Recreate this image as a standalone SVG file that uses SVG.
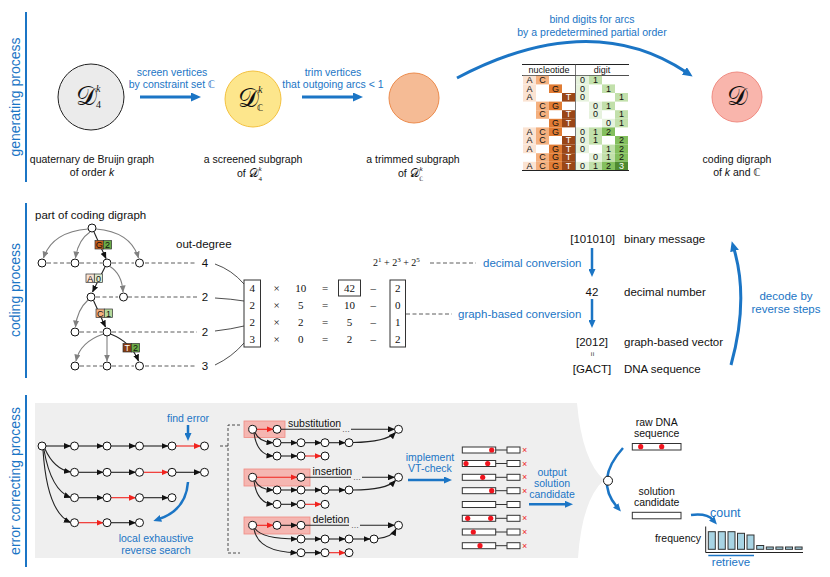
<svg xmlns="http://www.w3.org/2000/svg" width="830" height="577" viewBox="0 0 830 577">
<style>
.t{font-family:"Liberation Sans",Arial,sans-serif;font-size:10.5px;fill:#111}
.c{text-anchor:middle}
.r{text-anchor:end}
.bl{fill:#1b75c5}
.ttl{font-family:"Liberation Sans",Arial,sans-serif;font-size:14px;fill:#1b75c5;text-anchor:middle}
.m{font-family:"Liberation Serif","Times New Roman",serif;font-size:11px;fill:#111;text-anchor:middle}
.cal{font-family:"DejaVu Serif","DejaVu Sans",serif;font-size:26px;fill:#111}
.sm{font-family:"Liberation Serif",serif;font-size:10px;fill:#111}
.n{fill:#fff;stroke:#111;stroke-width:1}
.vl{stroke:#1b75c5;stroke-width:2}
.ba{fill:none;stroke:#1b75c5;stroke-width:3}
.ba2{fill:none;stroke:#1b75c5;stroke-width:2.5}
.ka{fill:none;stroke:#222;stroke-width:1.1}
.ga{fill:none;stroke:#808080;stroke-width:1.1}
.ra{fill:none;stroke:#f0231e;stroke-width:1.1}
.ds{fill:none;stroke:#333;stroke-width:0.8;stroke-dasharray:4 2.5}
.tb{font-family:"Liberation Sans",Arial,sans-serif;font-size:9px;text-anchor:middle;fill:#111}
.w{fill:#fff}
.A{fill:#fbe3d2}.C{fill:#f4b07f}.G{fill:#e07c34}.T{fill:#9a4617}
.d0{fill:#e6f2dd}.d1{fill:#c2e0ab}.d2{fill:#84bf5d}.d3{fill:#4f8a30}
.box{fill:#fff;stroke:#333;stroke-width:1}
.hl{fill:#f7a39c;fill-opacity:0.75;stroke:#ef8a82;stroke-width:0.8}
.x{font-family:"Liberation Sans",Arial,sans-serif;font-size:9px;fill:#f0231e}
.bar{fill:#a8d4e4;stroke:#333;stroke-width:1}
.f115{font-size:11.5px}
</style>
<defs>
<marker id="mb" viewBox="0 0 10 9" refX="2" refY="4.5" markerWidth="10" markerHeight="9" markerUnits="userSpaceOnUse" orient="auto"><path d="M0,0 L10,4.5 L0,9 z" fill="#1b75c5"/></marker>
<marker id="mb2" viewBox="0 0 8 7" refX="2" refY="3.5" markerWidth="8" markerHeight="7" markerUnits="userSpaceOnUse" orient="auto"><path d="M0,0 L8,3.5 L0,7 z" fill="#1b75c5"/></marker>
<marker id="mk" viewBox="0 0 7 6" refX="6.5" refY="3" markerWidth="7" markerHeight="6" markerUnits="userSpaceOnUse" orient="auto"><path d="M0,0 L7,3 L0,6 z" fill="#111"/></marker>
<marker id="mg" viewBox="0 0 7 6" refX="6.5" refY="3" markerWidth="7" markerHeight="6" markerUnits="userSpaceOnUse" orient="auto"><path d="M0,0 L7,3 L0,6 z" fill="#808080"/></marker>
<marker id="mr" viewBox="0 0 7 6" refX="6.5" refY="3" markerWidth="7" markerHeight="6" markerUnits="userSpaceOnUse" orient="auto"><path d="M0,0 L7,3 L0,6 z" fill="#f0231e"/></marker>
</defs>

<!-- section titles -->
<g id="titles">
<line class="vl" x1="26" y1="12" x2="26" y2="182"/>
<text class="ttl" transform="translate(20,97) rotate(-90)">generating process</text>
<line class="vl" x1="26" y1="203" x2="26" y2="378"/>
<text class="ttl" transform="translate(20,290) rotate(-90)">coding process</text>
<line class="vl" x1="26" y1="395" x2="26" y2="567"/>
<text class="ttl" transform="translate(20,481) rotate(-90)">error correcting process</text>
</g>

<!-- ===== generating process ===== -->
<g id="gen-d4">
<circle cx="91" cy="97" r="33" fill="#ebebeb" stroke="#222" stroke-width="1"/>
<text class="cal" x="76" y="105">𝒟</text>
<text class="sm" x="96" y="92" font-style="italic">k</text>
<text class="sm" x="96" y="108">4</text>
<text class="t c" x="92" y="163">quaternary de Bruijn graph</text>
<text class="t c" x="92" y="176">of order <tspan font-style="italic">k</tspan></text>
</g>
<g id="gen-dc">
<circle cx="253" cy="99" r="28" fill="#fde68c" stroke="#f3c140" stroke-width="1"/>
<text class="cal" x="238" y="107">𝒟</text>
<text class="sm" x="258" y="93" font-style="italic">k</text>
<text class="sm" x="257" y="111" style="font-family:'DejaVu Sans',sans-serif;font-size:9px">ℂ</text>
<text class="t c" x="253" y="163">a screened subgraph</text>
<text class="t" x="237" y="177">of</text>
<text class="cal" x="249" y="177" style="font-size:12px">𝒟</text>
<text class="sm" x="258.5" y="171" style="font-size:7px" font-style="italic">k</text>
<text class="sm" x="258.5" y="180.5" style="font-size:7px">4</text>
</g>
<g id="gen-trim">
<circle cx="414" cy="98" r="25" fill="#f5bb95" stroke="#ec8b4c" stroke-width="1"/>
<text class="t c" x="413" y="163">a trimmed subgraph</text>
<text class="t" x="398" y="177">of</text>
<text class="cal" x="410" y="177" style="font-size:12px">𝒟</text>
<text class="sm" x="419.5" y="171" style="font-size:7px" font-style="italic">k</text>
<text class="sm" x="419" y="180.5" style="font-family:'DejaVu Sans',sans-serif;font-size:6px">ℂ</text>
</g>
<g id="gen-d">
<circle cx="737" cy="97" r="25" fill="#f9b5ac" stroke="#f08b81" stroke-width="1"/>
<text class="cal c" x="737" y="105">𝒟</text>
<text class="t c" x="737" y="163">coding digraph</text>
<text class="t c" x="737" y="176">of <tspan font-style="italic">k</tspan> and <tspan font-family="DejaVu Sans">ℂ</tspan></text>
</g>

<g id="gen-table">
<line x1="522" y1="64.5" x2="629" y2="64.5" stroke="#222" stroke-width="1.2"/>
<text class="tb" x="549" y="73">nucleotide</text>
<text class="tb" x="602" y="73">digit</text>
<line x1="522" y1="75.5" x2="629" y2="75.5" stroke="#222" stroke-width="0.8"/>
<g>
<rect class="A" x="523" y="75.8" width="13" height="8.6"/><rect class="C" x="536" y="75.8" width="13" height="8.6"/><rect class="d0" x="576" y="75.8" width="13" height="8.6"/><rect class="d1" x="589" y="75.8" width="13" height="8.6"/>
<text class="tb" x="529.5" y="83">A</text><text class="tb" x="542.5" y="83">C</text><text class="tb" x="582.5" y="83">0</text><text class="tb" x="595.5" y="83">1</text>
<rect class="A" x="523" y="84.4" width="13" height="8.6"/><rect class="G" x="549" y="84.4" width="13" height="8.6"/><rect class="d0" x="576" y="84.4" width="13" height="8.6"/><rect class="d1" x="602" y="84.4" width="13" height="8.6"/>
<text class="tb" x="529.5" y="91.6">A</text><text class="tb" x="555.5" y="91.6">G</text><text class="tb" x="582.5" y="91.6">0</text><text class="tb" x="608.5" y="91.6">1</text>
<rect class="A" x="523" y="93" width="13" height="8.6"/><rect class="T" x="562" y="93" width="13" height="8.6"/><rect class="d0" x="576" y="93" width="13" height="8.6"/><rect class="d1" x="615" y="93" width="13" height="8.6"/>
<text class="tb" x="529.5" y="100.2">A</text><text class="tb w" x="568.5" y="100.2">T</text><text class="tb" x="582.5" y="100.2">0</text><text class="tb" x="621.5" y="100.2">1</text>
<rect class="C" x="536" y="101.6" width="13" height="8.6"/><rect class="G" x="549" y="101.6" width="13" height="8.6"/><rect class="d0" x="589" y="101.6" width="13" height="8.6"/><rect class="d1" x="602" y="101.6" width="13" height="8.6"/>
<text class="tb" x="542.5" y="108.8">C</text><text class="tb" x="555.5" y="108.8">G</text><text class="tb" x="595.5" y="108.8">0</text><text class="tb" x="608.5" y="108.8">1</text>
<rect class="C" x="536" y="110.2" width="13" height="8.6"/><rect class="T" x="562" y="110.2" width="13" height="8.6"/><rect class="d0" x="589" y="110.2" width="13" height="8.6"/><rect class="d1" x="615" y="110.2" width="13" height="8.6"/>
<text class="tb" x="542.5" y="117.4">C</text><text class="tb w" x="568.5" y="117.4">T</text><text class="tb" x="595.5" y="117.4">0</text><text class="tb" x="621.5" y="117.4">1</text>
<rect class="G" x="549" y="118.8" width="13" height="8.6"/><rect class="T" x="562" y="118.8" width="13" height="8.6"/><rect class="d0" x="602" y="118.8" width="13" height="8.6"/><rect class="d1" x="615" y="118.8" width="13" height="8.6"/>
<text class="tb" x="555.5" y="126">G</text><text class="tb w" x="568.5" y="126">T</text><text class="tb" x="608.5" y="126">0</text><text class="tb" x="621.5" y="126">1</text>
<rect class="A" x="523" y="127.4" width="13" height="8.6"/><rect class="C" x="536" y="127.4" width="13" height="8.6"/><rect class="G" x="549" y="127.4" width="13" height="8.6"/><rect class="d0" x="576" y="127.4" width="13" height="8.6"/><rect class="d1" x="589" y="127.4" width="13" height="8.6"/><rect class="d2" x="602" y="127.4" width="13" height="8.6"/>
<text class="tb" x="529.5" y="134.6">A</text><text class="tb" x="542.5" y="134.6">C</text><text class="tb" x="555.5" y="134.6">G</text><text class="tb" x="582.5" y="134.6">0</text><text class="tb" x="595.5" y="134.6">1</text><text class="tb" x="608.5" y="134.6">2</text>
<rect class="A" x="523" y="136" width="13" height="8.6"/><rect class="C" x="536" y="136" width="13" height="8.6"/><rect class="T" x="562" y="136" width="13" height="8.6"/><rect class="d0" x="576" y="136" width="13" height="8.6"/><rect class="d1" x="589" y="136" width="13" height="8.6"/><rect class="d2" x="615" y="136" width="13" height="8.6"/>
<text class="tb" x="529.5" y="143.2">A</text><text class="tb" x="542.5" y="143.2">C</text><text class="tb w" x="568.5" y="143.2">T</text><text class="tb" x="582.5" y="143.2">0</text><text class="tb" x="595.5" y="143.2">1</text><text class="tb" x="621.5" y="143.2">2</text>
<rect class="A" x="523" y="144.6" width="13" height="8.6"/><rect class="G" x="549" y="144.6" width="13" height="8.6"/><rect class="T" x="562" y="144.6" width="13" height="8.6"/><rect class="d0" x="576" y="144.6" width="13" height="8.6"/><rect class="d1" x="602" y="144.6" width="13" height="8.6"/><rect class="d2" x="615" y="144.6" width="13" height="8.6"/>
<text class="tb" x="529.5" y="151.8">A</text><text class="tb" x="555.5" y="151.8">G</text><text class="tb w" x="568.5" y="151.8">T</text><text class="tb" x="582.5" y="151.8">0</text><text class="tb" x="608.5" y="151.8">1</text><text class="tb" x="621.5" y="151.8">2</text>
<rect class="C" x="536" y="153.2" width="13" height="8.6"/><rect class="G" x="549" y="153.2" width="13" height="8.6"/><rect class="T" x="562" y="153.2" width="13" height="8.6"/><rect class="d0" x="589" y="153.2" width="13" height="8.6"/><rect class="d1" x="602" y="153.2" width="13" height="8.6"/><rect class="d2" x="615" y="153.2" width="13" height="8.6"/>
<text class="tb" x="542.5" y="160.4">C</text><text class="tb" x="555.5" y="160.4">G</text><text class="tb w" x="568.5" y="160.4">T</text><text class="tb" x="595.5" y="160.4">0</text><text class="tb" x="608.5" y="160.4">1</text><text class="tb" x="621.5" y="160.4">2</text>
<rect class="A" x="523" y="161.8" width="13" height="8.6"/><rect class="C" x="536" y="161.8" width="13" height="8.6"/><rect class="G" x="549" y="161.8" width="13" height="8.6"/><rect class="T" x="562" y="161.8" width="13" height="8.6"/><rect class="d0" x="576" y="161.8" width="13" height="8.6"/><rect class="d1" x="589" y="161.8" width="13" height="8.6"/><rect class="d2" x="602" y="161.8" width="13" height="8.6"/><rect class="d3" x="615" y="161.8" width="13" height="8.6"/>
<text class="tb" x="529.5" y="169">A</text><text class="tb" x="542.5" y="169">C</text><text class="tb" x="555.5" y="169">G</text><text class="tb w" x="568.5" y="169">T</text><text class="tb" x="582.5" y="169">0</text><text class="tb" x="595.5" y="169">1</text><text class="tb" x="608.5" y="169">2</text><text class="tb w" x="621.5" y="169">3</text>
</g>
<line x1="575.5" y1="64.5" x2="575.5" y2="170.5" stroke="#555" stroke-width="0.8"/>
<line x1="522" y1="170.5" x2="629" y2="170.5" stroke="#222" stroke-width="1.2"/>
</g>

<g id="gen-connectors">
<line class="ba" x1="140" y1="97" x2="193" y2="97" marker-end="url(#mb)"/>
<text class="t c bl" x="172" y="76">screen vertices</text>
<text class="t c bl" x="172" y="88">by constraint set <tspan font-family="DejaVu Sans">ℂ</tspan></text>
<line class="ba" x1="302" y1="97" x2="355" y2="97" marker-end="url(#mb)"/>
<text class="t c bl" x="333" y="76">trim vertices</text>
<text class="t c bl" x="333" y="88">that outgoing arcs &lt; 1</text>
<path class="ba" d="M457,78 Q590,8 686,72" marker-end="url(#mb)"/>
<text class="t c bl" x="592" y="23">bind digits for arcs</text>
<text class="t c bl" x="592" y="36">by a predetermined partial order</text>
</g>

<!-- ===== coding process ===== -->
<g id="code-tree">
<text class="t f115" x="35" y="219">part of coding digraph</text>
<text class="t f115" x="176" y="248">out-degree</text>
<path class="ds" d="M47,263 H70 M80,263 H102 M112,263 H134 M145,263 H197 M96,297 H118 M128,297 H197 M80,332 H102 M112,332 H197 M80,366 H102 M112,366 H134 M145,366 H197"/>
<text class="t c f115" x="205" y="267">4</text>
<text class="t c f115" x="205" y="301">2</text>
<text class="t c f115" x="205" y="336">2</text>
<text class="t c f115" x="205" y="370">3</text>
<path class="ga" d="M88,229 Q52,232 43.5,258" marker-end="url(#mg)"/>
<path class="ga" d="M90,232 Q78,240 75.5,258" marker-end="url(#mg)"/>
<path class="ka" d="M94,232 L106,258.5" marker-end="url(#mk)"/>
<path class="ga" d="M96,229 Q131,232 138.5,258" marker-end="url(#mg)"/>
<path class="ka" d="M105,267 L92.5,292" marker-end="url(#mk)"/>
<path class="ga" d="M110,266.5 Q122,274 123,292" marker-end="url(#mg)"/>
<path class="ga" d="M88,300 Q77,310 75.5,327" marker-end="url(#mg)"/>
<path class="ka" d="M93.5,300.5 L105.5,327" marker-end="url(#mk)"/>
<path class="ga" d="M103.5,334 Q80,342 76,361" marker-end="url(#mg)"/>
<path class="ga" d="M107,336 L107,361" marker-end="url(#mg)"/>
<path class="ka" d="M110.5,334 Q131,342 138.5,361" marker-end="url(#mk)"/>
<circle class="n" cx="92" cy="228" r="4"/>
<circle class="n" cx="42" cy="263" r="4"/><circle class="n" cx="75" cy="263" r="4"/><circle class="n" cx="107" cy="263" r="4"/><circle class="n" cx="139.5" cy="263" r="4"/>
<circle class="n" cx="91" cy="297" r="4"/><circle class="n" cx="123.5" cy="297" r="4"/>
<circle class="n" cx="75" cy="332" r="4"/><circle class="n" cx="107" cy="332" r="4"/>
<circle class="n" cx="75" cy="366" r="4"/><circle class="n" cx="107" cy="366" r="4"/><circle class="n" cx="139.5" cy="366" r="4"/>
<g stroke="#333" stroke-width="0.7">
<rect x="95" y="240.5" width="8.3" height="8.5" fill="#c9601c"/><rect x="103.3" y="240.5" width="8.3" height="8.5" fill="#6aab46"/>
<rect x="86" y="274" width="8.3" height="8.5" fill="#fbe3d2"/><rect x="94.3" y="274" width="8.3" height="8.5" fill="#dcebd2"/>
<rect x="96" y="309" width="8.3" height="8.5" fill="#f4b07f"/><rect x="104.3" y="309" width="8.3" height="8.5" fill="#b5d99b"/>
<rect x="123" y="343.5" width="8.3" height="8.5" fill="#8a3c10"/><rect x="131.3" y="343.5" width="8.3" height="8.5" fill="#6aab46"/>
</g>
<text class="tb" x="99.2" y="248">G</text><text class="tb" x="107.5" y="248">2</text>
<text class="tb" x="90.2" y="281.5">A</text><text class="tb" x="98.5" y="281.5">0</text>
<text class="tb" x="100.2" y="316.5">C</text><text class="tb" x="108.5" y="316.5">1</text>
<text class="tb w" x="127.2" y="351">T</text><text class="tb" x="135.5" y="351">2</text>
<path fill="none" stroke="#222" stroke-width="0.8" d="M215,264 Q232,270 244,284 M215,298 Q232,299 244,301 M215,331 Q232,329 244,326 M215,365 Q232,357 244,343"/>
</g>

<g id="code-matrix">
<rect class="box" x="244" y="280" width="16.5" height="67"/>
<rect class="box" x="338.5" y="280" width="22" height="16"/>
<rect class="box" x="390" y="280" width="15.5" height="67"/>
<text class="m" x="252.3" y="291.5">4</text><text class="m" x="276.7" y="291.5">×</text><text class="m" x="300.7" y="291.5">10</text><text class="m" x="325" y="291.5">=</text><text class="m" x="349.5" y="291.5">42</text><text class="m" x="373.3" y="291.5">–</text><text class="m" x="397.7" y="291.5">2</text>
<text class="m" x="252.3" y="309">2</text><text class="m" x="276.7" y="309">×</text><text class="m" x="300.7" y="309">5</text><text class="m" x="325" y="309">=</text><text class="m" x="349.5" y="309">10</text><text class="m" x="373.3" y="309">–</text><text class="m" x="397.7" y="309">0</text>
<text class="m" x="252.3" y="326">2</text><text class="m" x="276.7" y="326">×</text><text class="m" x="300.7" y="326">2</text><text class="m" x="325" y="326">=</text><text class="m" x="349.5" y="326">5</text><text class="m" x="373.3" y="326">–</text><text class="m" x="397.7" y="326">1</text>
<text class="m" x="252.3" y="343">3</text><text class="m" x="276.7" y="343">×</text><text class="m" x="300.7" y="343">0</text><text class="m" x="325" y="343">=</text><text class="m" x="349.5" y="343">2</text><text class="m" x="373.3" y="343">–</text><text class="m" x="397.7" y="343">2</text>
<text class="m" x="373" y="266" style="text-anchor:start;font-size:10px">2<tspan dy="-4" style="font-size:7px">1</tspan><tspan dy="4"> + 2</tspan><tspan dy="-4" style="font-size:7px">3</tspan><tspan dy="4"> + 2</tspan><tspan dy="-4" style="font-size:7px">5</tspan></text>
<path class="ds" d="M430,263 H476 M406,314 H452"/>
<text class="t bl f115" x="483" y="267">decimal conversion</text>
<text class="t bl f115" x="458" y="318">graph-based conversion</text>
</g>

<g id="code-right">
<text class="t r f115" x="615" y="243">[101010]</text>
<text class="t f115" x="624" y="243">binary message</text>
<line class="ba2" x1="592" y1="248" x2="592" y2="271" marker-end="url(#mb2)"/>
<text class="t c f115" x="592" y="296">42</text>
<text class="t f115" x="624" y="296">decimal number</text>
<line class="ba2" x1="592" y1="299" x2="592" y2="322" marker-end="url(#mb2)"/>
<text class="t c f115" x="592" y="346">[2012]</text>
<text class="t f115" x="624" y="346">graph-based vector</text>
<text class="t c" x="592" y="356.5" style="font-size:8px" transform="rotate(90 592 354)">=</text>
<text class="t c f115" x="592" y="373">[GACT]</text>
<text class="t f115" x="624" y="373">DNA sequence</text>
<path class="ba" d="M731,365 Q749,300 734,249" marker-end="url(#mb)"/>
<text class="t c bl f115" x="786" y="300">decode by</text>
<text class="t c bl f115" x="786" y="313">reverse steps</text>
</g>

<!-- ===== error correcting ===== -->
<path id="err-bg" d="M35,403 H577 Q582,460 604,480 Q582,500 578,558 H35 Z" fill="#efefef"/>

<g id="err-search">
<path class="ka" d="M45,449 Q54,469 70.5,472" marker-end="url(#mk)"/>
<path class="ka" d="M44,450 Q51,490 70.5,497.5" marker-end="url(#mk)"/>
<path class="ka" d="M43,450 Q47,512 70.5,522.5" marker-end="url(#mk)"/>
<g>
<line class="ka" x1="46" y1="446" x2="70.5" y2="446" marker-end="url(#mk)"/>
<line class="ka" x1="78.5" y1="446" x2="103" y2="446" marker-end="url(#mk)"/>
<line class="ka" x1="111" y1="446" x2="135.5" y2="446" marker-end="url(#mk)"/>
<line class="ka" x1="143.5" y1="446" x2="168" y2="446" marker-end="url(#mk)"/>
<line class="ra" x1="176" y1="446" x2="200.5" y2="446" marker-end="url(#mr)"/>
<line class="ka" x1="78.5" y1="472.3" x2="103" y2="472.3" marker-end="url(#mk)"/>
<line class="ka" x1="111" y1="472.3" x2="135.5" y2="472.3" marker-end="url(#mk)"/>
<line class="ra" x1="143.5" y1="472.3" x2="168" y2="472.3" marker-end="url(#mr)"/>
<line class="ka" x1="176" y1="472.3" x2="200.5" y2="472.3" marker-end="url(#mk)"/>
<line class="ka" x1="78.5" y1="497.7" x2="103" y2="497.7" marker-end="url(#mk)"/>
<line class="ra" x1="111" y1="497.7" x2="135.5" y2="497.7" marker-end="url(#mr)"/>
<line class="ka" x1="143.5" y1="497.7" x2="168" y2="497.7" marker-end="url(#mk)"/>
<line class="ra" x1="78.5" y1="522.7" x2="103" y2="522.7" marker-end="url(#mr)"/>
<line class="ka" x1="111" y1="522.7" x2="135.5" y2="522.7" marker-end="url(#mk)"/>
</g>
<g>
<circle class="n" cx="42" cy="446" r="4"/><circle class="n" cx="74.5" cy="446" r="4"/><circle class="n" cx="107" cy="446" r="4"/><circle class="n" cx="139.5" cy="446" r="4"/><circle class="n" cx="172" cy="446" r="4"/><circle class="n" cx="204.5" cy="446" r="4"/>
<circle class="n" cx="74.5" cy="472.3" r="4"/><circle class="n" cx="107" cy="472.3" r="4"/><circle class="n" cx="139.5" cy="472.3" r="4"/><circle class="n" cx="172" cy="472.3" r="4"/><circle class="n" cx="204.5" cy="472.3" r="4"/>
<circle class="n" cx="74.5" cy="497.7" r="4"/><circle class="n" cx="107" cy="497.7" r="4"/><circle class="n" cx="139.5" cy="497.7" r="4"/><circle class="n" cx="172" cy="497.7" r="4"/>
<circle class="n" cx="74.5" cy="522.7" r="4"/><circle class="n" cx="107" cy="522.7" r="4"/><circle class="n" cx="139.5" cy="522.7" r="4"/>
</g>
<text class="t c bl" x="188" y="422">find error</text>
<line class="ba2" x1="188" y1="425" x2="188" y2="435" marker-end="url(#mb2)"/>
<path class="ba2" d="M188,482 Q186,510 159,519" marker-end="url(#mb2)"/>
<text class="t c bl" x="156" y="542">local exhaustive</text>
<text class="t c bl" x="156" y="553.5">reverse search</text>
<path fill="none" stroke="#222" stroke-width="0.8" stroke-dasharray="3 2" d="M220,446 H228 M240,425 H228 V553 H240"/>
</g>

<g id="err-sub">
<rect class="hl" x="244" y="421" width="41" height="16.5"/>
<line class="ra" x1="256.7" y1="429.3" x2="273" y2="429.3" marker-end="url(#mr)"/>
<line class="ka" x1="281" y1="429.3" x2="340" y2="429.3"/>
<text class="t" x="288" y="426.5">substitution</text>
<text class="t" x="342" y="432" style="font-size:8px">…</text>
<line class="ka" x1="351" y1="429.3" x2="394.5" y2="429.3" marker-end="url(#mk)"/>
<path class="ka" d="M255,432.5 Q259,442 273,442.7" marker-end="url(#mk)"/>
<line class="ka" x1="281" y1="442.7" x2="297" y2="442.7" marker-end="url(#mk)"/>
<line class="ka" x1="305" y1="442.7" x2="321" y2="442.7" marker-end="url(#mk)"/>
<line class="ka" x1="329" y1="442.7" x2="345" y2="442.7" marker-end="url(#mk)"/>
<path class="ka" d="M353,442.5 Q386,442 395.5,432.5" marker-end="url(#mk)"/>
<path class="ka" d="M254,433 Q257,455 273,456" marker-end="url(#mk)"/>
<line class="ka" x1="281" y1="456" x2="297" y2="456" marker-end="url(#mk)"/>
<line class="ra" x1="305" y1="456" x2="321" y2="456" marker-end="url(#mr)"/>
<circle class="n" cx="252.7" cy="429.3" r="4"/><circle class="n" cx="277" cy="429.3" r="4"/><circle class="n" cx="398.5" cy="429.3" r="4"/>
<circle class="n" cx="277" cy="442.7" r="4"/><circle class="n" cx="301" cy="442.7" r="4"/><circle class="n" cx="325" cy="442.7" r="4"/><circle class="n" cx="349" cy="442.7" r="4"/>
<circle class="n" cx="277" cy="456" r="4"/><circle class="n" cx="301" cy="456" r="4"/><circle class="n" cx="325" cy="456" r="4"/>
</g>

<g id="err-ins">
<rect class="hl" x="244" y="469" width="66" height="17"/>
<line class="ra" x1="256.7" y1="477.3" x2="297" y2="477.3" marker-end="url(#mr)"/>
<line class="ka" x1="305" y1="477.3" x2="351" y2="477.3"/>
<text class="t" x="312.5" y="474.5">insertion</text>
<text class="t" x="353" y="480" style="font-size:8px">…</text>
<line class="ka" x1="362" y1="477.3" x2="394.5" y2="477.3" marker-end="url(#mk)"/>
<path class="ka" d="M255,480.5 Q259,489.5 273,490" marker-end="url(#mk)"/>
<line class="ka" x1="281" y1="490" x2="297" y2="490" marker-end="url(#mk)"/>
<line class="ka" x1="305" y1="490" x2="321" y2="490" marker-end="url(#mk)"/>
<line class="ka" x1="329" y1="490" x2="345" y2="490" marker-end="url(#mk)"/>
<path class="ka" d="M353,490 Q386,490 395.5,480.5" marker-end="url(#mk)"/>
<path class="ka" d="M254,481 Q257,503 273,504.3" marker-end="url(#mk)"/>
<line class="ka" x1="281" y1="504.3" x2="297" y2="504.3" marker-end="url(#mk)"/>
<line class="ra" x1="305" y1="504.3" x2="321" y2="504.3" marker-end="url(#mr)"/>
<circle class="n" cx="252.7" cy="477.3" r="4"/><circle class="n" cx="301" cy="477.3" r="4"/><circle class="n" cx="398.5" cy="477.3" r="4"/>
<circle class="n" cx="277" cy="490" r="4"/><circle class="n" cx="301" cy="490" r="4"/><circle class="n" cx="325" cy="490" r="4"/><circle class="n" cx="349" cy="490" r="4"/>
<circle class="n" cx="277" cy="504.3" r="4"/><circle class="n" cx="301" cy="504.3" r="4"/><circle class="n" cx="325" cy="504.3" r="4"/>
</g>

<g id="err-del">
<rect class="hl" x="244" y="517" width="66" height="17"/>
<line class="ra" x1="256.7" y1="525.3" x2="273" y2="525.3" marker-end="url(#mr)"/>
<line class="ka" x1="281" y1="525.3" x2="297" y2="525.3" marker-end="url(#mk)"/>
<line class="ka" x1="305" y1="525.3" x2="349" y2="525.3"/>
<text class="t" x="312.5" y="522.5">deletion</text>
<text class="t" x="351" y="528" style="font-size:8px">…</text>
<line class="ka" x1="360" y1="525.3" x2="394.5" y2="525.3" marker-end="url(#mk)"/>
<path class="ka" d="M255,528.5 Q262,539 297,539" marker-end="url(#mk)"/>
<line class="ka" x1="305" y1="539" x2="321" y2="539" marker-end="url(#mk)"/>
<line class="ka" x1="329" y1="539" x2="345" y2="539" marker-end="url(#mk)"/>
<line class="ka" x1="353" y1="539" x2="370" y2="539" marker-end="url(#mk)"/>
<path class="ka" d="M378,538.5 Q392,537 396,529" marker-end="url(#mk)"/>
<path class="ka" d="M254,529 Q258,552 297,552.7" marker-end="url(#mk)"/>
<line class="ka" x1="305" y1="552.7" x2="321" y2="552.7" marker-end="url(#mk)"/>
<line class="ra" x1="329" y1="552.7" x2="345" y2="552.7" marker-end="url(#mr)"/>
<circle class="n" cx="252.7" cy="525.3" r="4"/><circle class="n" cx="277" cy="525.3" r="4"/><circle class="n" cx="301" cy="525.3" r="4"/><circle class="n" cx="398.5" cy="525.3" r="4"/>
<circle class="n" cx="301" cy="539" r="4"/><circle class="n" cx="325" cy="539" r="4"/><circle class="n" cx="349" cy="539" r="4"/><circle class="n" cx="374" cy="539" r="4"/>
<circle class="n" cx="301" cy="552.7" r="4"/><circle class="n" cx="325" cy="552.7" r="4"/><circle class="n" cx="349" cy="552.7" r="4"/>
</g>

<g id="err-vt">
<text class="t c bl" x="430" y="461">implement</text>
<text class="t c bl" x="430" y="472">VT-check</text>
<line class="ba2" x1="408" y1="480" x2="446" y2="480" marker-end="url(#mb2)"/>
<g stroke="#333" stroke-width="1">
<line x1="495.7" y1="450" x2="507" y2="450"/><line x1="495.7" y1="463.5" x2="507" y2="463.5"/><line x1="495.7" y1="477.3" x2="507" y2="477.3"/><line x1="495.7" y1="490.7" x2="507" y2="490.7"/><line x1="495.7" y1="504.5" x2="507" y2="504.5"/><line x1="495.7" y1="518.3" x2="507" y2="518.3"/><line x1="495.7" y1="532" x2="507" y2="532"/><line x1="495.7" y1="545.7" x2="507" y2="545.7"/>
</g>
<g>
<rect class="box" x="462.3" y="447" width="33.4" height="6"/><rect class="box" x="507" y="447" width="13" height="6"/>
<rect class="box" x="462.3" y="460.5" width="33.4" height="6"/><rect class="box" x="507" y="460.5" width="13" height="6"/>
<rect class="box" x="462.3" y="474.3" width="33.4" height="6"/><rect class="box" x="507" y="474.3" width="13" height="6"/>
<rect class="box" x="462.3" y="487.7" width="33.4" height="6"/><rect class="box" x="507" y="487.7" width="13" height="6"/>
<rect class="box" x="462.3" y="501.5" width="33.4" height="6"/><rect class="box" x="507" y="501.5" width="13" height="6"/>
<rect class="box" x="462.3" y="515.3" width="33.4" height="6"/><rect class="box" x="507" y="515.3" width="13" height="6"/>
<rect class="box" x="462.3" y="529" width="33.4" height="6"/><rect class="box" x="507" y="529" width="13" height="6"/>
<rect class="box" x="462.3" y="542.7" width="33.4" height="6"/><rect class="box" x="507" y="542.7" width="13" height="6"/>
</g>
<g fill="#f0141e">
<circle cx="491.7" cy="450" r="2.6"/>
<circle cx="466" cy="463.5" r="2.6"/><circle cx="487.7" cy="463.5" r="2.6"/>
<circle cx="482.7" cy="477.3" r="2.6"/>
<circle cx="491.7" cy="490.7" r="2.6"/>
<circle cx="467.7" cy="518.3" r="2.6"/><circle cx="490.7" cy="518.3" r="2.6"/>
<circle cx="473.3" cy="532" r="2.6"/>
<circle cx="480" cy="545.7" r="2.6"/>
</g>
<text class="x" x="522" y="453">×</text><text class="x" x="522" y="466.5">×</text><text class="x" x="522" y="480.3">×</text><text class="x" x="522" y="493.7">×</text><text class="x" x="522" y="521.3">×</text><text class="x" x="522" y="535">×</text><text class="x" x="522" y="548.7">×</text>
<text class="t c bl" x="552" y="475.5">output</text>
<text class="t c bl" x="552" y="487">solution</text>
<text class="t c bl" x="552" y="498">candidate</text>
<line class="ba2" x1="529" y1="504.3" x2="567" y2="504.3" marker-end="url(#mb2)"/>
</g>

<g id="err-result">
<path class="ba2" d="M623,448 Q594,480 617,507" marker-end="url(#mb2)"/>
<circle class="n" cx="608" cy="480.7" r="4.5"/>
<text class="t c" x="656.7" y="426">raw DNA</text>
<text class="t c" x="656.7" y="437">sequence</text>
<rect class="box" x="632.3" y="443.5" width="48.7" height="6.5"/>
<circle cx="640.7" cy="446.7" r="2.6" fill="#f0141e"/><circle cx="661.7" cy="446.7" r="2.6" fill="#f0141e"/>
<text class="t c" x="656.7" y="494.5">solution</text>
<text class="t c" x="656.7" y="506">candidate</text>
<rect class="box" x="632.3" y="512.3" width="48.7" height="6.5"/>
<path class="ba2" d="M691,515 Q707,513 713,520" marker-end="url(#mb2)"/>
<text class="t bl" x="710" y="517" style="font-size:12.5px">count</text>
<text class="t r" x="701" y="542">frequency</text>
<path fill="none" stroke="#222" stroke-width="1" d="M705.7,526.5 V552.5 H803"/>
<rect class="bar" x="708.3" y="531.7" width="7" height="17.6"/>
<rect class="bar" x="718.3" y="531.7" width="7" height="17.6"/>
<rect class="bar" x="728" y="531.7" width="7" height="17.6"/>
<rect class="bar" x="737.5" y="533.3" width="7" height="16"/>
<rect class="bar" x="747" y="535" width="7" height="14.3"/>
<rect class="bar" x="756.7" y="545.5" width="7" height="3.8"/>
<rect class="bar" x="766.3" y="547" width="7" height="2.3"/>
<rect class="bar" x="775.9" y="547" width="7" height="2.3"/>
<rect class="bar" x="785.5" y="547" width="7" height="2.3"/>
<rect class="bar" x="795.1" y="547" width="7" height="2.3"/>
<line x1="708.3" y1="555.5" x2="754" y2="555.5" stroke="#1b75c5" stroke-width="1.5"/>
<text class="t c bl f115" x="731" y="566">retrieve</text>
</g>
</svg>
